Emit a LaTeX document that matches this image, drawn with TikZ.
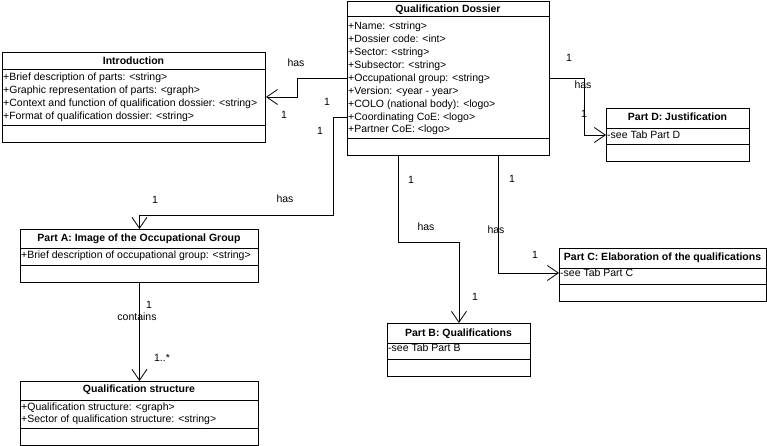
\documentclass[tikz,border=0pt]{standalone}
\usepackage{fontspec}
\setmainfont{Liberation Sans}
\usetikzlibrary{arrows.meta,calc}
\begin{document}
\begin{tikzpicture}[x=1pt,y=-1pt,
  every node/.style={font=\fontsize{10.5}{12}\selectfont},
  classbox/.style={draw, line width=0.9pt, anchor=north west, inner sep=0pt},
  sepline/.style={line width=0.9pt},
  ctitle/.style={inner sep=0pt, text height=7.5pt, text depth=0pt, font=\fontsize{10.5}{12}\selectfont\bfseries},
  attr/.style={anchor=west, inner sep=0pt, text height=7.5pt, text depth=0pt},
  lbl/.style={inner sep=0pt, text height=7.5pt, text depth=0pt},
  assoc/.style={line width=0.8pt, -{Straight Barb[length=11pt,width=15pt,line width=0.8pt]}}
]
\useasboundingbox (0,0) rectangle (767,446);

% Qualification Dossier
\node[classbox, minimum width=202pt, minimum height=154pt] (dossier) at (347,1) {};
\draw[sepline] ([yshift=-15pt]dossier.north west) -- ([yshift=-15pt]dossier.north east);
\draw[sepline] ([yshift=-137pt]dossier.north west) -- ([yshift=-137pt]dossier.north east);
\node[ctitle] (dossierT) at (448,9) {Qualification Dossier};
\node[attr] (dName) at (348,26) {+Name: <string>};
\node[attr] (dCode) at (348,39) {+Dossier code: <int>};
\node[attr] (dSector) at (348,52) {+Sector: <string>};
\node[attr] (dSub) at (348,65) {+Subsector: <string>};
\node[attr] (dOcc) at (348,78) {+Occupational group: <string>};
\node[attr] (dVer) at (348,91) {+Version: <year - year>};
\node[attr] (dColo) at (348,104) {+COLO (national body): <logo>};
\node[attr] (dCoord) at (348,117) {+Coordinating CoE: <logo>};
\node[attr] (dPart) at (348,129) {+Partner CoE: <logo>};

% Introduction
\node[classbox, minimum width=263pt, minimum height=90pt] (intro) at (2,52) {};
\draw[sepline] ([yshift=-17pt]intro.north west) -- ([yshift=-17pt]intro.north east);
\draw[sepline] ([yshift=-73pt]intro.north west) -- ([yshift=-73pt]intro.north east);
\node[ctitle] (introT) at (133.5,61) {Introduction};
\node[attr] (iA1) at (3,77) {+Brief description of parts: <string>};
\node[attr] (iA2) at (3,90) {+Graphic representation of parts: <graph>};
\node[attr] (iA3) at (3,103) {+Context and function of qualification dossier: <string>};
\node[attr] (iA4) at (3,116) {+Format of qualification dossier: <string>};

% Part A
\node[classbox, minimum width=238pt, minimum height=53pt] (partA) at (20,229) {};
\draw[sepline] ([yshift=-19pt]partA.north west) -- ([yshift=-19pt]partA.north east);
\draw[sepline] ([yshift=-36pt]partA.north west) -- ([yshift=-36pt]partA.north east);
\node[ctitle] (partAT) at (139,238) {Part A: Image of the Occupational Group};
\node[attr] (aA1) at (21,255) {+Brief description of occupational group: <string>};

% Qualification structure
\node[classbox, minimum width=238pt, minimum height=64pt] (qs) at (20,381) {};
\draw[sepline] ([yshift=-19pt]qs.north west) -- ([yshift=-19pt]qs.north east);
\draw[sepline] ([yshift=-47pt]qs.north west) -- ([yshift=-47pt]qs.north east);
\node[ctitle] (qsT) at (139,389) {Qualification structure};
\node[attr] (qA1) at (21,407) {+Qualification structure: <graph>};
\node[attr] (qA2) at (21,419) {+Sector of qualification structure: <string>};

% Part D
\node[classbox, minimum width=143pt, minimum height=53pt] (partD) at (606,108) {};
\draw[sepline] ([yshift=-20pt]partD.north west) -- ([yshift=-20pt]partD.north east);
\draw[sepline] ([yshift=-36pt]partD.north west) -- ([yshift=-36pt]partD.north east);
\node[ctitle] (partDT) at (677.5,117) {Part D: Justification};
\node[attr] (pDattr) at (607,135) {-see Tab Part D};

% Part C
\node[classbox, minimum width=207pt, minimum height=53pt] (partC) at (559,248) {};
\draw[sepline] ([yshift=-20pt]partC.north west) -- ([yshift=-20pt]partC.north east);
\draw[sepline] ([yshift=-36pt]partC.north west) -- ([yshift=-36pt]partC.north east);
\node[ctitle] (partCT) at (662.5,257) {Part C: Elaboration of the qualifications};
\node[attr] (pCattr) at (560,273) {-see Tab Part C};

% Part B
\node[classbox, minimum width=143pt, minimum height=53pt] (partB) at (387,323) {};
\draw[sepline] ([yshift=-20pt]partB.north west) -- ([yshift=-20pt]partB.north east);
\draw[sepline] ([yshift=-36pt]partB.north west) -- ([yshift=-36pt]partB.north east);
\node[ctitle] (partBT) at (458.5,333) {Part B: Qualifications};
\node[attr] (pBattr) at (388,348) {-see Tab Part B};

% Connectors
\draw[assoc] (dossier.west |- dOcc) -- ++(-50,0) |- ($(intro.north east)+(0,45)$);
\draw[assoc] (dossier.west |- dCoord) -- ++(-14,0) |- ($(partA.north)+(0,-14)$) -- (partA.north);
\draw[assoc] ($(dossier.south west)+(51,0)$) -- ++(0,86) -| (partB.north);
\draw[assoc] ($(dossier.south west)+(151,0)$) |- (partC.west |- pCattr);
\draw[assoc] (dossier.east |- dOcc) -- ++(34,0) |- (partD.west |- pDattr);
\draw[assoc] (partA.south) -- (qs.north);

% Labels
\node[lbl] (l1) at (296,63) {has};
\node[lbl] (l2) at (327,102) {1};
\node[lbl] (l3) at (284,115) {1};
\node[lbl] (l4) at (320,131) {1};
\node[lbl] (l5) at (285,199) {has};
\node[lbl] (l6) at (155,200) {1};
\node[lbl] (l7) at (411,180) {1};
\node[lbl] (l8) at (426,227) {has};
\node[lbl] (l9) at (475,297) {1};
\node[lbl] (l10) at (512,179) {1};
\node[lbl] (l11) at (496,230) {has};
\node[lbl] (l12) at (535,255) {1};
\node[lbl] (l13) at (569,58) {1};
\node[lbl] (l14) at (583,85) {has};
\node[lbl] (l15) at (584,114) {1};
\node[lbl] (l16) at (149,305) {1};
\node[lbl] (l17) at (137,317) {contains};
\node[lbl] (l18) at (162,358) {1..*};
\end{tikzpicture}
\end{document}
